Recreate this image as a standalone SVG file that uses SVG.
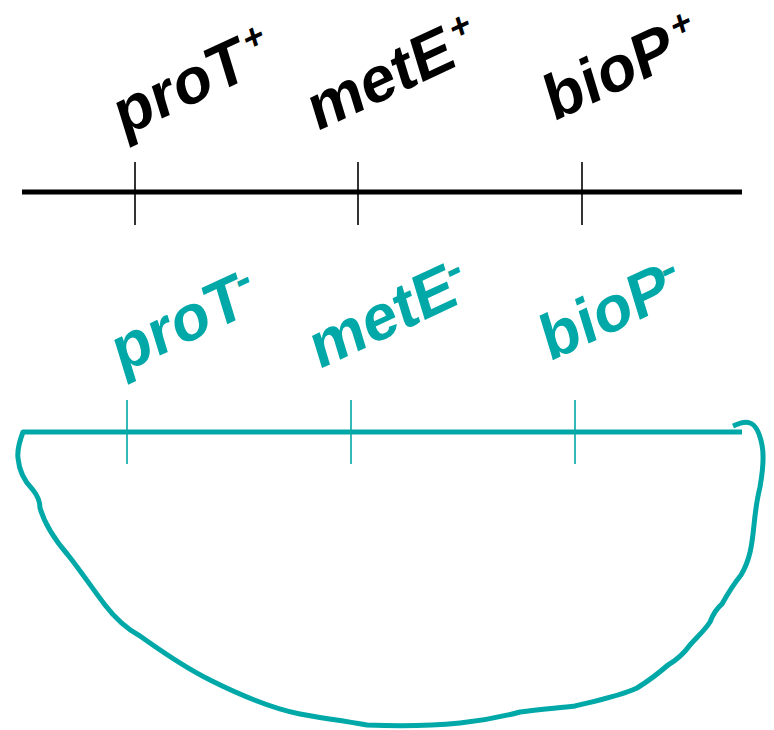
<svg xmlns="http://www.w3.org/2000/svg" width="774" height="730" viewBox="0 0 774 730">
<style>
.lbl{font-family:"Liberation Sans",Arial,sans-serif;font-weight:bold;font-size:64px}
.sup{font-size:36px}
.dash{font-size:46px}
.blk{fill:#000}
.tl{fill:#00A8A8}
.chrB{stroke:#000;stroke-width:5;fill:none}
.tickB{stroke:#000;stroke-width:1.6}
.chrT{stroke:#00A8A8;stroke-width:5;fill:none;stroke-linejoin:round;stroke-linecap:butt}
.tickT{stroke:#00A8A8;stroke-width:1.6}
</style>
<rect width="774" height="730" fill="#fff"/>
<g id="connectors">
<line class="chrB" x1="22" y1="192" x2="742" y2="192"/>
<line class="tickB" x1="135" y1="162" x2="135" y2="225"/>
<line class="tickB" x1="358" y1="162" x2="358" y2="225"/>
<line class="tickB" x1="582" y1="162" x2="582" y2="225"/>
<path class="chrT" d="M742,432 H23 C20,440 17,450 18,458 C19,470 25,482 33,490 C37,495 40,500 40,508 C45,525 55,540 68,555 C80,570 92,588 105,605 C115,618 125,628 140,636 C160,650 180,665 210,680 C240,695 270,708 300,714 C320,718 340,720 367,725 C390,726 430,726 460,723 C490,720 505,716 520,712 C540,709 560,708 575,706 C600,700 620,696 637,688 C650,680 660,672 668,665 C680,658 685,652 690,645 C698,636 705,630 710,622 C714,612 717,608 722,604 C727,595 733,585 741,575 C750,560 752,545 754,525 C756,505 758,495 760,487 C763,470 764,455 762,445 C760,435 756,425 750,423 C745,421 740,423 733,426"/>
<line class="tickT" x1="127" y1="400" x2="127" y2="464"/>
<line class="tickT" x1="351" y1="400" x2="351" y2="464"/>
<line class="tickT" x1="575" y1="400" x2="575" y2="464"/>
</g>
<g id="proT-plus"><text class="lbl blk" transform="matrix(0.906,-0.423,0.292,0.956,122.3,137)">proT<tspan class="sup" dx="3.5" dy="-23.5">+</tspan></text></g>
<g id="metE-plus"><text class="lbl blk" transform="matrix(0.906,-0.423,0.292,0.956,316,132)">metE<tspan class="sup" dx="3.5" dy="-23.5">+</tspan></text></g>
<g id="bioP-plus"><text class="lbl blk" transform="matrix(0.906,-0.423,0.292,0.956,553,122)">bioP<tspan class="sup" dx="3.5" dy="-23.5">+</tspan></text></g>
<g id="proT-minus"><text class="lbl tl" transform="matrix(0.906,-0.423,0.292,0.956,120.3,374)">proT<tspan class="dash" dx="-3.8" dy="-19.8">-</tspan></text></g>
<g id="metE-minus"><text class="lbl tl" transform="matrix(0.906,-0.423,0.292,0.956,318,370)">metE<tspan class="dash" dx="-3.8" dy="-19.8">-</tspan></text></g>
<g id="bioP-minus"><text class="lbl tl" transform="matrix(0.906,-0.423,0.292,0.956,549,362)">bioP<tspan class="dash" dx="-3.8" dy="-19.8">-</tspan></text></g>
</svg>
